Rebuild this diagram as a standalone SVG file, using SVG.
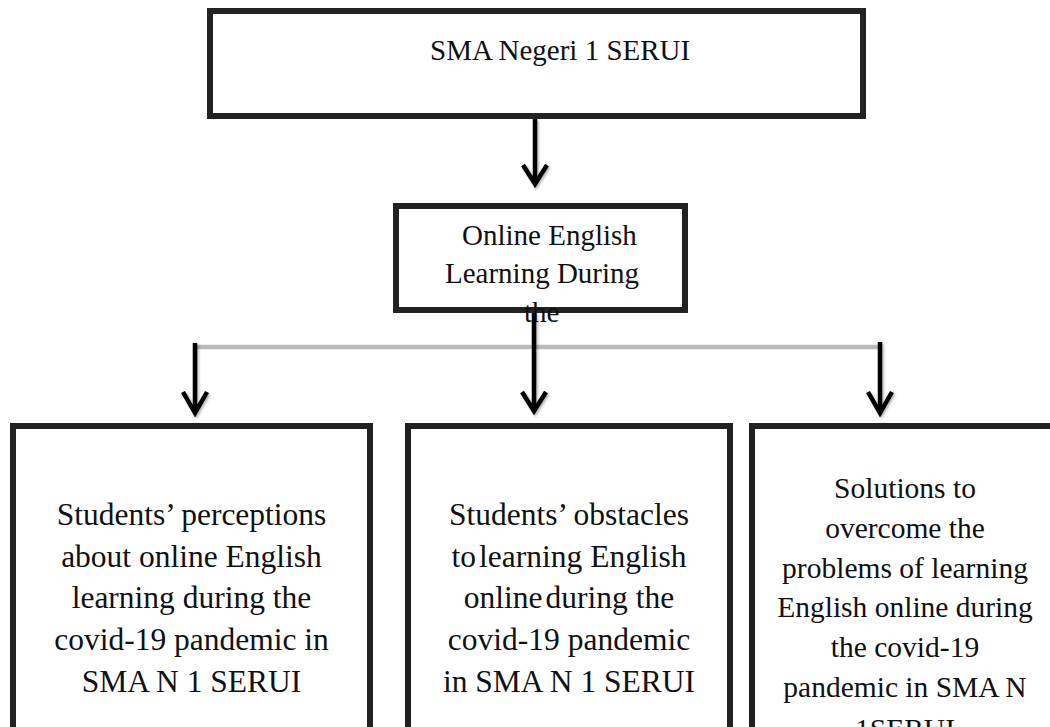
<svg xmlns="http://www.w3.org/2000/svg" width="1050" height="727" viewBox="0 0 1050 727">
<defs>
<style>
.box{fill:#fff;stroke:#222;stroke-width:6}
.t{font-family:"Liberation Serif","Times New Roman",serif;fill:#111}
.t29{font-size:29px}
.t31{font-size:31.5px;text-anchor:middle}
.t295{font-size:29.5px;text-anchor:middle}
.arr{fill:none;stroke:#000;stroke-width:4.5;stroke-linecap:butt;stroke-linejoin:miter}
.hline{fill:none;stroke:#bababa;stroke-width:4.5}
</style>
<filter id="sh" x="-50%" y="-10%" width="200%" height="130%">
<feDropShadow dx="1.5" dy="1.5" stdDeviation="1.2" flood-color="#000" flood-opacity="0.3"/>
</filter>
<filter id="bl" filterUnits="userSpaceOnUse" x="180" y="335" width="710" height="25">
<feGaussianBlur stdDeviation="0.6"/>
</filter>
</defs>

<g id="node-top">
<rect class="box" x="210" y="11" width="653" height="105"/>
<text class="t t29" x="430" y="60">SMA Negeri 1 SERUI</text>
</g>

<g id="node-middle">
<rect class="box" x="396" y="206" width="289" height="104"/>
<text class="t t29" x="462" y="245">Online English</text>
<text class="t t29" x="445" y="283">Learning During</text>
<text class="t t29" x="524" y="322">the</text>
</g>

<g id="node-perceptions">
<rect class="box" x="13" y="426" width="357" height="400"/>
<text class="t t31" x="191.5" y="525">Students’ perceptions</text>
<text class="t t31" x="191.5" y="567">about online English</text>
<text class="t t31" x="191.5" y="608">learning during the</text>
<text class="t t31" x="191.5" y="650">covid-19 pandemic in</text>
<text class="t t31" x="191.5" y="692">SMA N 1 SERUI</text>
</g>

<g id="node-obstacles">
<rect class="box" x="408" y="426" width="322" height="400"/>
<text class="t t31" x="569" y="525">Students’ obstacles</text>
<text class="t t31" x="569" y="567">to<tspan dx="3">learning English</tspan></text>
<text class="t t31" x="569" y="608">online<tspan dx="3">during the</tspan></text>
<text class="t t31" x="569" y="650">covid-19 pandemic</text>
<text class="t t31" x="569" y="692">in SMA N 1 SERUI</text>
</g>

<g id="node-solutions">
<rect class="box" x="752" y="426" width="400" height="400"/>
<text class="t t295" x="905" y="498">Solutions to</text>
<text class="t t295" x="905" y="538">overcome the</text>
<text class="t t295" x="905" y="578">problems of learning</text>
<text class="t t295" x="905" y="617">English online during</text>
<text class="t t295" x="905" y="657">the covid-19</text>
<text class="t t295" x="905" y="697">pandemic in SMA N</text>
<text class="t t295" x="905" y="739">1SERUI</text>
</g>

<g id="connectors">
<line class="hline" x1="195" y1="347" x2="878" y2="347" filter="url(#bl)"/>
<g filter="url(#sh)">
<path class="arr" d="M535 119 V184 M523 165 L535 184 L547 165"/>
<path class="arr" d="M534 313 V411 M522 392 L534 411 L546 392"/>
<path class="arr" d="M195 343 V413 M183 392 L195 413 L207 392"/>
<path class="arr" d="M880 342 V413 M868 392 L880 413 L892 392"/>
</g>
</g>
</svg>
